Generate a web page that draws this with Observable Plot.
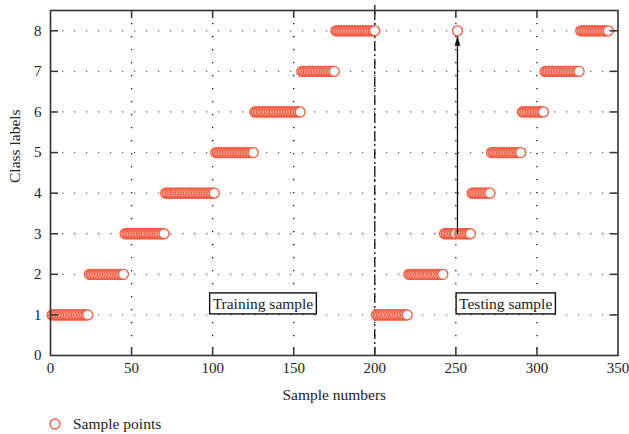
<!DOCTYPE html>
<html><head><meta charset="utf-8">
<script src="https://cdn.jsdelivr.net/npm/d3@7"></script>
<script src="https://cdn.jsdelivr.net/npm/@observablehq/plot@0.6"></script>
<style>
body{margin:0;background:#fff;font-family:"Liberation Serif",serif;}
#legend{box-sizing:border-box;height:29px;padding-top:9px;display:flex;align-items:center;padding-left:49px;font-size:15.5px;color:#222;line-height:20px}
#legend span{margin-left:12px}
</style></head><body>
<div id="chart"></div>
<div id="legend"><svg width="12" height="12"><circle cx="6" cy="6" r="5" fill="white" stroke="#f05a40" stroke-width="1.3"/></svg><span>Sample points</span></div>
<script>
// Runs of consecutive samples sharing a class label
const runLabel = [1, 2, 3, 4, 5, 6, 7, 8, 1, 2, 3, 4, 5, 6, 7, 8];
const runFirst = [1, 24, 46, 71, 102, 126, 155, 176, 201, 221, 243, 260, 272, 291, 305, 327];
const runLast  = [23, 45, 70, 101, 125, 154, 175, 200, 220, 242, 259, 271, 290, 304, 326, 344];
// Misclassified testing sample
const wrongSample = [251];
const wrongLabel = [8];
const trueLabel = [3];
const boundary = [200];
const xTicks = [0, 50, 100, 150, 200, 250, 300, 350];
const yTicks = [0, 1, 2, 3, 4, 5, 6, 7, 8];
const xInner = [50, 100, 150, 200, 250, 300];
const yInner = [1, 2, 3, 4, 5, 6, 7, 8];
const annText = ["Training sample", "Testing sample"];
const annX = [100, 252];
const annY = [1.27, 1.27];
const xLabel = "Sample numbers";
const yLabel = "Class labels";

const samples = [];
runLabel.forEach((lab, i) => {
  for (let n = runFirst[i]; n <= runLast[i]; n++) {
    const w = wrongSample.indexOf(n);
    samples.push({n, label: w >= 0 ? wrongLabel[w] : lab});
  }
});
const ann = annText.map((t, i) => ({t, x: annX[i], y: annY[i]}));
const arrows = wrongSample.map((n, i) => ({n, from: trueLabel[i], to: wrongLabel[i]}));

const W = 629, H = 405, mL = 50, mR = 11.5, mT = 10, mB = 50;
const pw = W - mL - mR, ph = H - mT - mB, tk = 8;
const ink = "#222";

const chart = Plot.plot({
  width: W, height: H, marginLeft: mL, marginRight: mR, marginTop: mT, marginBottom: mB,
  style: {fontFamily: "Liberation Serif, serif", fontSize: "15px", color: ink, background: "white"},
  x: {domain: [0, 350]},
  y: {domain: [0, 8.5]},
  marks: [
    Plot.gridX(xInner, {stroke: "#111", strokeOpacity: 1, strokeWidth: 1.3, strokeDasharray: "1.3,11.7"}),
    Plot.gridY(yInner, {stroke: "#666", strokeOpacity: 1, strokeWidth: 1.3, strokeDasharray: "1.3,10.7"}),
    Plot.ruleX(boundary, {insetTop: -5, stroke: "#111", strokeWidth: 1.3, strokeDasharray: "10,3,2,3"}),
    Plot.dot(samples, {x: "n", y: "label", r: 5, stroke: "#f05a40", fill: "white", strokeWidth: 1.3}),
    Plot.arrow(arrows, {x1: "n", x2: "n", y1: "from", y2: "to", headLength: 0, insetEnd: 6, stroke: "#111", strokeWidth: 1.3}),
    Plot.vector(arrows, {x: "n", y: "to", shape: "spike", r: 2.6, length: 9, rotate: 0, anchor: "end", dy: 6, fill: "#111", stroke: "#111", strokeWidth: 0.5}),
    Plot.text(ann, {x: "x", y: "y", text: "t", textAnchor: "start", lineAnchor: "middle", fontSize: 15.5, fill: ink}),
    Plot.tickX(xInner, {x: d => d, insetTop: ph - tk, stroke: "#333", strokeWidth: 1.5}),
    Plot.tickX(xInner, {x: d => d, insetBottom: ph - tk, stroke: "#333", strokeWidth: 1.5}),
    Plot.tickY(yInner, {y: d => d, insetRight: pw - tk, stroke: "#333", strokeWidth: 1.5}),
    Plot.tickY(yInner, {y: d => d, insetLeft: pw - tk, stroke: "#333", strokeWidth: 1.5}),
    Plot.frame({stroke: "#333", strokeWidth: 1.6}),
    Plot.axisX(xTicks, {tickSize: 0, tickPadding: 7, label: null, fontSize: 15, fill: ink}),
    Plot.axisY(yTicks, {tickSize: 0, tickPadding: 9, label: null, fontSize: 15, fill: ink}),
    Plot.text([xLabel], {frameAnchor: "bottom", dy: 40, text: d => d, lineAnchor: "middle", fontSize: 15.5, fill: ink}),
    Plot.text([yLabel], {frameAnchor: "left", dx: -35, rotate: -90, text: d => d, lineAnchor: "middle", fontSize: 15.5, fill: ink})
  ]
});
document.getElementById("chart").appendChild(chart);

// boxes around the annotation labels
Array.from(chart.querySelectorAll("text")).filter(t => annText.includes(t.textContent)).forEach(t => {
  const b = t.getBBox();
  const r = document.createElementNS("http://www.w3.org/2000/svg", "rect");
  r.setAttribute("x", b.x - 3);
  r.setAttribute("y", b.y - 2);
  r.setAttribute("width", b.width + 6);
  r.setAttribute("height", b.height + 4);
  r.setAttribute("fill", "white");
  r.setAttribute("stroke", "#111");
  r.setAttribute("stroke-width", 1.4);
  if (t.getAttribute("transform")) r.setAttribute("transform", t.getAttribute("transform"));
  t.parentNode.insertBefore(r, t);
});
</script>
</body></html>
